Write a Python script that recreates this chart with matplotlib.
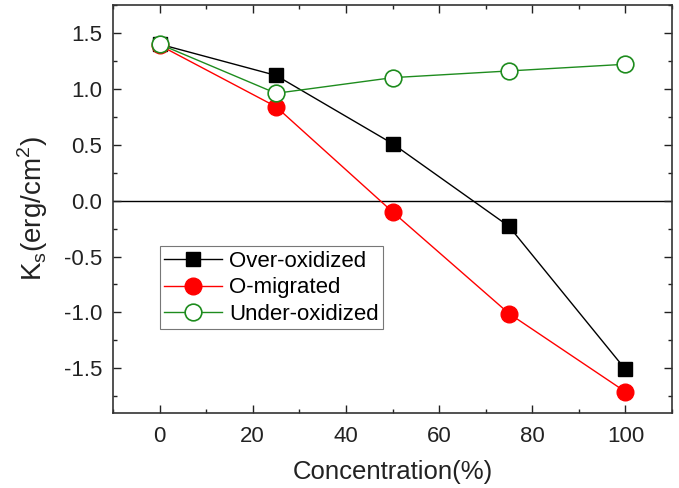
import numpy as np
import matplotlib
matplotlib.use("Agg")
import matplotlib.pyplot as plt
from matplotlib.ticker import MultipleLocator

plt.rcParams['font.family'] = ['Liberation Sans', 'DejaVu Sans']
plt.rcParams['axes.unicode_minus'] = False

# data
conc = [0, 25, 50, 75, 100]
over_ox = [1.40, 1.12, 0.51, -0.23, -1.51]
o_mig = [1.39, 0.84, -0.10, -1.01, -1.71]
under_ox = [1.40, 0.96, 1.10, 1.16, 1.22]

fig = plt.figure(figsize=(6.79, 4.88), dpi=100)
ax = fig.add_axes([113/679, 75/488, 559/679, 408/488])

ax.axhline(0, color='black', lw=1.0, zorder=1)
ax.plot(conc, over_ox, color='black', lw=1.0, marker='s', ms=10,
        mfc='black', mec='black', label='Over-oxidized', zorder=3)
ax.plot(conc, o_mig, color='red', lw=1.0, marker='o', ms=12,
        mfc='red', mec='red', label='O-migrated', zorder=3)
ax.plot(conc, under_ox, color='#1e8c1e', lw=1.0, marker='o', ms=12,
        mfc='white', mec='#1e8c1e', mew=1.2, label='Under-oxidized', zorder=4)

ax.set_xlim(-10, 110)
ax.set_ylim(-1.9, 1.75)
ax.xaxis.set_major_locator(MultipleLocator(20))
ax.xaxis.set_minor_locator(MultipleLocator(10))
ax.yaxis.set_major_locator(MultipleLocator(0.5))
ax.yaxis.set_minor_locator(MultipleLocator(0.25))
ax.tick_params(which='both', direction='in', top=True, right=True,
               labelsize=16, colors='#222222')
ax.tick_params(axis='x', which='major', pad=9)
ax.tick_params(axis='y', which='major', pad=8)
ax.tick_params(which='major', length=6, width=1)
ax.tick_params(which='minor', length=3, width=1)
for s in ax.spines.values():
    s.set_linewidth(1.2)
    s.set_color('#333333')

ax.set_xlabel('Concentration(%)', fontsize=18.5, labelpad=10, color='#222222')
ax.set_ylabel(r'K$_\mathregular{s}$(erg/cm$^\mathregular{2}$)', fontsize=20,
              labelpad=10, color='#222222')

leg = ax.legend(loc='lower left', bbox_to_anchor=(0.084, 0.205), fontsize=16,
                frameon=True, fancybox=False, edgecolor='#555555',
                handlelength=2.6, borderpad=0.2, labelspacing=0.25,
                handletextpad=0.3, borderaxespad=0)
leg.get_frame().set_linewidth(0.8)

fig.savefig('out.png', dpi=100)
